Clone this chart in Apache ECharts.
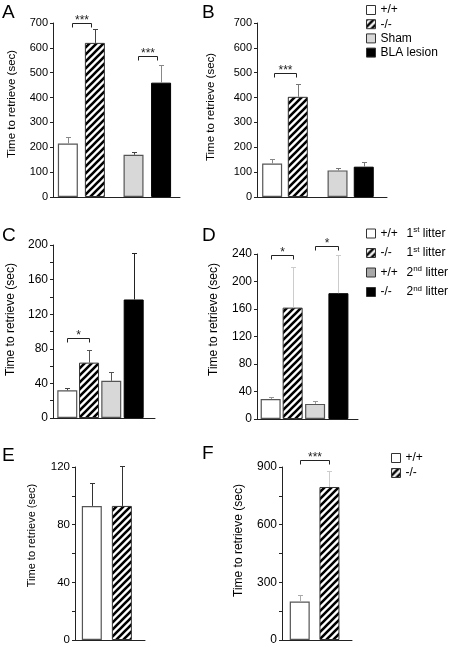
<!DOCTYPE html>
<html><head><meta charset="utf-8">
<script src="https://cdn.jsdelivr.net/npm/echarts@6/dist/echarts.min.js"></script>
<style>html,body{margin:0;padding:0;background:#fff}#chart{width:450px;height:648px}</style>
</head><body><div id="chart"></div>
<script>
// ---------------- data ----------------
const groupsAB = ['+/+', '-/-', 'Sham', 'BLA lesion'];
const meanA = [215, 620, 170, 460];
const upperA = [240, 675, 183, 530];
const meanB = [135, 403, 107, 122];
const upperB = [152, 455, 118, 140];
const ticksA = [0, 100, 200, 300, 400, 500, 600, 700];
const ticksB = [0, 100, 200, 300, 400, 500, 600, 700];

const groupsCD = ['+/+ 1st litter', '-/- 1st litter', '+/+ 2nd litter', '-/- 2nd litter'];
const meanC = [32, 64, 43, 137];
const upperC = [35, 79, 53, 191];
const meanD = [29, 162, 22, 183];
const upperD = [32, 221, 26, 238];
const ticksC = [0, 40, 80, 120, 160, 200];
const ticksD = [0, 40, 80, 120, 160, 200, 240];

const groupsEF = ['+/+', '-/-'];
const meanE = [93, 93];
const upperE = [109, 121];
const meanF = [200, 796];
const upperF = [234, 877];
const ticksE = [0, 40, 80, 120];
const ticksF = [0, 300, 600, 900];

// significance: [fromBar, toBar, level, label]
const sigA = [[0, 1, 700, '***'], [2, 3, 568, '***']];
const sigB = [[0, 1, 500, '***']];
const sigC = [[0, 1, 92, '*']];
const sigD = [[0, 1, 239, '*'], [2, 3, 252, '*']];
const sigE = [];
const sigF = [[0, 1, 938, '***']];

const yTitle = 'Time to retrieve (sec)';

// ---------------- styles / layout ----------------
const FONT = "'Liberation Sans', Arial, Helvetica, sans-serif";
function makeHatch() {
  const c = document.createElement('canvas'); c.width = 7; c.height = 7;
  const g = c.getContext('2d');
  g.fillStyle = '#fff'; g.fillRect(0, 0, 7, 7);
  g.strokeStyle = '#000'; g.lineWidth = 2.6;
  g.beginPath();
  g.moveTo(-2, 9); g.lineTo(9, -2);
  g.moveTo(-2, 2); g.lineTo(2, -2);
  g.moveTo(5, 9); g.lineTo(9, 5);
  g.stroke();
  return { image: c, repeat: 'repeat' };
}
const HATCH = makeHatch();
const kindStyle = {
  white: { color: '#fff', borderColor: '#555', borderWidth: 1.2 },
  hatch: { color: HATCH, borderColor: '#333', borderWidth: 1 },
  gray: { color: '#d8d8d8', borderColor: '#555', borderWidth: 1.2 },
  black: { color: '#000', borderColor: '#000', borderWidth: 1 }
};
const kinds4 = ['white', 'hatch', 'gray', 'black'];

const panels = [
  { letter: 'A', names: groupsAB, mean: meanA, upper: upperA, ticks: ticksA, sig: sigA, kinds: kinds4,
    err: ['#888', '#444', '#444', '#888'], grid: { left: 53, top: 23, width: 127, height: 174 },
    pos: [0.55, 1.55, 2.98, 4.0], xMax: 4.7, lab: 11, tgap: 35, tshift: 6, tsize: 11.5, minor: false, inset: 4,
    L: [2, 3] },
  { letter: 'B', names: groupsAB, mean: meanB, upper: upperB, ticks: ticksB, sig: sigB, kinds: kinds4,
    err: ['#888', '#777', '#777', '#777'], grid: { left: 257, top: 23, width: 130, height: 174 },
    pos: [0.56, 1.51, 2.98, 3.95], xMax: 4.81, lab: 11, tgap: 40, tshift: 3, tsize: 11.5, minor: false, inset: 2,
    L: [202, 3] },
  { letter: 'C', names: groupsCD, mean: meanC, upper: upperC, ticks: ticksC, sig: sigC, kinds: kinds4,
    err: ['#444', '#555', '#555', '#222'], grid: { left: 53, top: 245, width: 102, height: 173 },
    pos: [0.65, 1.64, 2.65, 3.67], xMax: 4.64, lab: 12, tgap: 36, tshift: 12, tsize: 12, minor: true, inset: 0,
    L: [2, 226] },
  { letter: 'D', names: groupsCD, mean: meanD, upper: upperD, ticks: ticksD, sig: sigD, kinds: kinds4,
    err: ['#999', '#ccc', '#999', '#ccc'], grid: { left: 257, top: 254, width: 101, height: 165 },
    pos: [0.62, 1.62, 2.64, 3.70], xMax: 4.59, lab: 12, tgap: 37, tshift: 17, tsize: 12, minor: false, inset: 0,
    L: [202, 226] },
  { letter: 'E', names: groupsEF, mean: meanE, upper: upperE, ticks: ticksE, sig: sigE, kinds: ['white', 'hatch'],
    err: ['#333', '#333'], grid: { left: 75, top: 467, width: 70, height: 173 },
    pos: [0.56, 1.56], xMax: 2.33, lab: 11.5, tgap: 38, tshift: 18, tsize: 11, minor: true, inset: 0,
    L: [2, 446] },
  { letter: 'F', names: groupsEF, mean: meanF, upper: upperF, ticks: ticksF, sig: sigF, kinds: ['white', 'hatch'],
    err: ['#aaa', '#ccc'], grid: { left: 282, top: 467, width: 70, height: 173 },
    pos: [0.59, 1.58], xMax: 2.33, lab: 12, tgap: 37, tshift: 13, tsize: 12, minor: true, inset: 0,
    L: [202, 444] }
];

const AX = '#222';
const grids = [], xAxes = [], yAxes = [], series = [], titles = [];
panels.forEach((P, p) => {
  grids.push(Object.assign({ containLabel: false }, P.grid));
  xAxes.push({ gridIndex: p, type: 'value', min: 0, max: P.xMax,
    axisLine: { show: true, onZero: false, lineStyle: { color: AX, width: 1 } },
    axisTick: { show: false }, axisLabel: { show: false }, splitLine: { show: false } });
  const t = P.ticks;
  yAxes.push({ gridIndex: p, type: 'value', min: t[0], max: t[t.length - 1], interval: t[1] - t[0],
    name: yTitle, nameLocation: 'middle', nameGap: P.tgap, nameRotate: 90,
    nameTextStyle: { fontSize: P.tsize, color: '#000', fontFamily: FONT, padding: [0, 0, 0, 2 * P.tshift] },
    axisLine: { show: true, onZero: false, lineStyle: { color: AX, width: 1 } },
    axisTick: { show: true, length: 3, lineStyle: { color: AX } },
    minorTick: { show: P.minor, splitNumber: 2, length: 3, lineStyle: { color: AX } },
    axisLabel: { fontSize: P.lab, color: '#000', margin: 5, fontFamily: FONT },
    splitLine: { show: false }, minorSplitLine: { show: false } });
  P.names.forEach((n, i) => {
    series.push({ type: 'bar', name: n, xAxisIndex: p, yAxisIndex: p, barWidth: 20, barGap: '-100%',
      data: [[P.pos[i], P.mean[i]]], itemStyle: kindStyle[P.kinds[i]], z: 2, silent: true });
  });
  series.push({ type: 'custom', xAxisIndex: p, yAxisIndex: p, z: 3, silent: true,
    data: P.mean.map((m, i) => [P.pos[i], m, P.upper[i], i]),
    encode: { x: 0, y: [1, 2] },
    renderItem: (params, api) => {
      const i = api.value(3);
      const a = api.coord([api.value(0), api.value(1)]);
      const b = api.coord([api.value(0), api.value(2)]);
      const x = Math.round(a[0]) + 0.5, yb = Math.round(b[1]) + 0.5;
      const col = P.err[i];
      return { type: 'group', children: [
        { type: 'line', shape: { x1: x, y1: a[1], x2: x, y2: yb }, style: { stroke: col, lineWidth: 1 } },
        { type: 'line', shape: { x1: x - 2.5, y1: yb, x2: x + 2.5, y2: yb }, style: { stroke: col, lineWidth: 1 } }
      ] };
    } });
  if (P.sig.length) {
    series.push({ type: 'custom', xAxisIndex: p, yAxisIndex: p, z: 4, silent: true, clip: false,
      data: P.sig.map((s, k) => [P.pos[s[0]], P.pos[s[1]], s[2], k]),
      encode: { x: [0, 1], y: 2 },
      renderItem: (params, api) => {
        const k = api.value(3);
        const p1 = api.coord([api.value(0), api.value(2)]);
        const p2 = api.coord([api.value(1), api.value(2)]);
        const x1 = Math.round(p1[0] + P.inset) + 0.5, x2 = Math.round(p2[0] - P.inset) + 0.5;
        const y = Math.round(p1[1]) + 0.5;
        return { type: 'group', children: [
          { type: 'polyline', shape: { points: [[x1, y + 4], [x1, y], [x2, y], [x2, y + 4]] },
            style: { stroke: '#222', lineWidth: 1, fill: null } },
          { type: 'text', style: { text: P.sig[k][3], x: (x1 + x2) / 2, y: y - 3, align: 'center',
            verticalAlign: 'middle', fontSize: 12, fill: '#222', fontFamily: FONT } }
        ] };
      } });
  }
  titles.push({ text: P.letter, left: P.L[0], top: P.L[1], padding: 0,
    textStyle: { fontSize: 19, fontWeight: 'normal', color: '#000', fontFamily: FONT } });
});

function legendItems(names, kinds, override) {
  return names.map((n, i) => ({ name: n, icon: 'rect',
    itemStyle: Object.assign({}, kindStyle[kinds[i]], { borderColor: '#333', borderWidth: 1 }, (override && override[i]) || {}) }));
}
const legends = [
  { orient: 'vertical', left: 366, top: 4, padding: 0, itemWidth: 9, itemHeight: 9, itemGap: 2.2, selectedMode: false,
    data: legendItems(groupsAB, kinds4),
    textStyle: { fontSize: 12, color: '#000', lineHeight: 12, fontFamily: FONT } },
  { orient: 'vertical', left: 366, top: 226, padding: 0, itemWidth: 9, itemHeight: 9, itemGap: 4.5, selectedMode: false,
    data: legendItems(groupsCD, kinds4, [null, null, { color: '#a8a8a8' }, null]),
    formatter: name => { const m = name.match(/^(\S+) (\d)(st|nd) (.*)$/); return `{g|${m[1]}}${m[2]}{s|${m[3]}} ${m[4]}`; },
    textStyle: { fontSize: 12, color: '#000', lineHeight: 15, fontFamily: FONT,
      rich: { g: { width: 26, fontSize: 12, fontFamily: FONT, color: '#000' },
              s: { fontSize: 8, verticalAlign: 'top', fontFamily: FONT, color: '#000' } } } },
  { orient: 'vertical', left: 391, top: 452, padding: 0, itemWidth: 9, itemHeight: 9, itemGap: 3, selectedMode: false,
    data: legendItems(groupsEF, ['white', 'hatch']),
    textStyle: { fontSize: 12, color: '#000', lineHeight: 12, fontFamily: FONT } }
];

const chart = echarts.init(document.getElementById('chart'), null, { renderer: 'canvas' });
chart.setOption({
  animation: false,
  backgroundColor: '#fff',
  textStyle: { fontFamily: FONT },
  title: titles,
  legend: legends,
  grid: grids, xAxis: xAxes, yAxis: yAxes, series: series
});
</script></body></html>
